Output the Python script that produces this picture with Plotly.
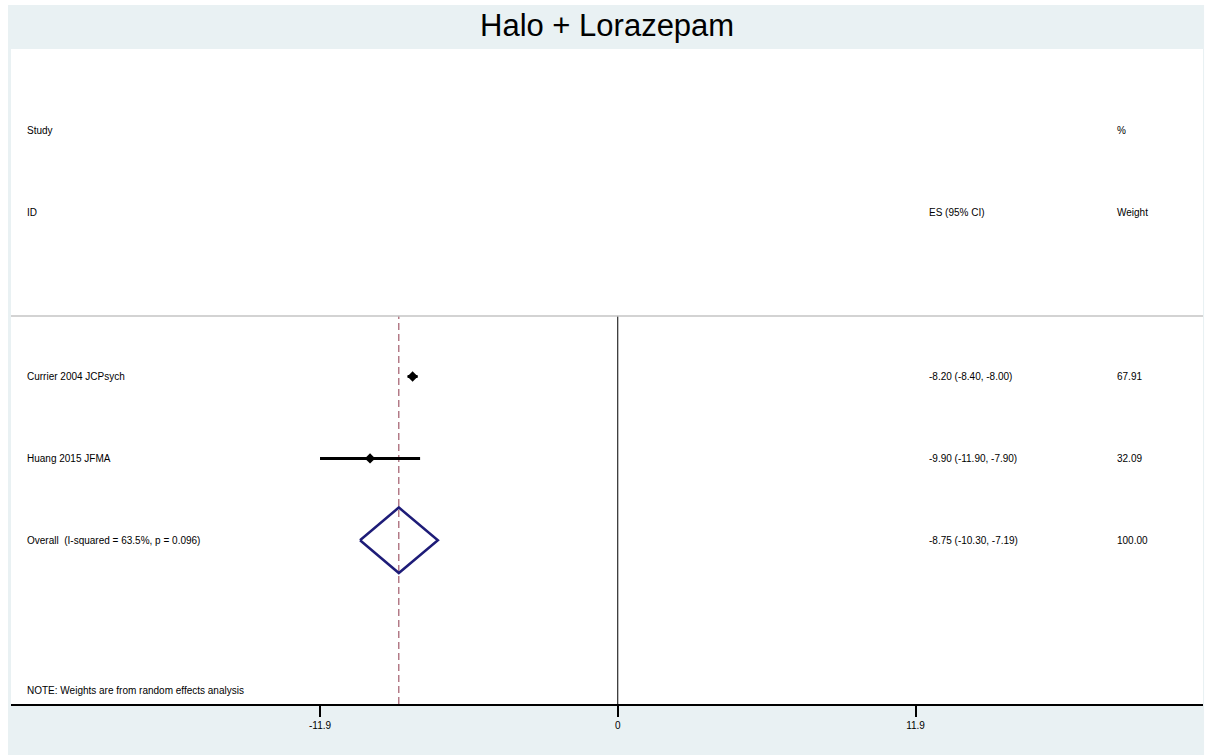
import plotly.graph_objects as go

# ---- data ----
studies = ["Currier 2004 JCPsych", "Huang 2015 JFMA"]
es = [-8.20, -9.90]
ci_low = [-8.40, -11.90]
ci_high = [-8.00, -7.90]
weights = [67.91, 32.09]

overall_label = "Overall  (I-squared = 63.5%, p = 0.096)"
overall_es = -8.75
overall_low = -10.30
overall_high = -7.19
overall_weight = 100.00

tick_vals = [-11.9, 0, 11.9]
tick_text = ["-11.9", "0", "11.9"]

title = "Halo + Lorazepam"
note = "NOTE: Weights are from random effects analysis"

# row positions (y units)
study_rows = [4, 3]
overall_row = 2
sep_row = 4.74

BG = "#E9F1F3"
FONT = "Liberation Sans, Arial, sans-serif"

fig = go.Figure()

# dashed overall line
fig.add_trace(go.Scatter(x=[overall_es, overall_es], y=[0, sep_row], mode="lines",
                         line=dict(color="#8E3A4C", width=1, dash="7px,4px"),
                         hoverinfo="skip", showlegend=False))
# zero line
fig.add_trace(go.Scatter(x=[0, 0], y=[0, sep_row], mode="lines",
                         line=dict(color="black", width=1),
                         hoverinfo="skip", showlegend=False))

# CIs
for lo, hi, r in zip(ci_low, ci_high, study_rows):
    fig.add_trace(go.Scatter(x=[lo, hi], y=[r, r], mode="lines",
                             line=dict(color="black", width=3),
                             hoverinfo="skip", showlegend=False))
# point estimates
fig.add_trace(go.Scatter(x=es, y=study_rows, mode="markers",
                         marker=dict(symbol="diamond", size=8, color="black"),
                         showlegend=False))

# overall diamond
h = 0.40
fig.add_trace(go.Scatter(
    x=[overall_low, overall_es, overall_high, overall_es, overall_low],
    y=[overall_row, overall_row + h, overall_row, overall_row - h, overall_row],
    mode="lines", line=dict(color="#1E1C78", width=2.5),
    hoverinfo="skip", showlegend=False))

# text columns
XL, XES, XW = -23.69, 12.37, 19.87
tf = dict(family=FONT, size=10, color="black")
ann = []
def add(x, y, t, anchor="left"):
    ann.append(dict(x=x, y=y, xref="x", yref="y", text=t, showarrow=False,
                    xanchor=anchor, yanchor="middle", font=tf))

add(XL, 7.0, "Study")
add(XL, 6.0, "ID")
add(XES, 6.0, "ES (95% CI)")
add(XW, 7.0, "%")
add(XW, 6.0, "Weight")
for s, e, lo, hi, w, r in zip(studies, es, ci_low, ci_high, weights, study_rows):
    add(XL, r, s)
    add(XES, r, f"{e:.2f} ({lo:.2f}, {hi:.2f})")
    add(XW, r, f"{w:.2f}")
add(XL, overall_row, overall_label)
add(XES, overall_row, f"{overall_es:.2f} ({overall_low:.2f}, {overall_high:.2f})")
add(XW, overall_row, f"{overall_weight:.2f}")
add(XL, 0.17, note)

# title
ann.append(dict(x=0.5, y=1.0366, xref="paper", yref="paper", text=title,
                showarrow=False, xanchor="center", yanchor="middle",
                font=dict(family=FONT, size=31, color="black")))

shapes = [
    # separator
    dict(type="line", xref="paper", yref="y", x0=0, x1=1, y0=sep_row, y1=sep_row,
         line=dict(color="#C4C4C4", width=1.5)),
    # white page strips outside the graph region
    dict(type="rect", xref="paper", yref="paper", x0=-0.02, x1=-0.0025, y0=-0.2, y1=1.2,
         fillcolor="white", line=dict(width=0), layer="above"),
    dict(type="rect", xref="paper", yref="paper", x0=-0.02, x1=1.02, y0=1.0672, y1=1.2,
         fillcolor="white", line=dict(width=0), layer="above"),
    dict(type="rect", xref="paper", yref="paper", x0=1.0009, x1=1.02, y0=-0.2, y1=1.2,
         fillcolor="white", line=dict(width=0), layer="above"),
]

fig.update_layout(
    width=1205, height=755,
    margin=dict(l=11, r=2, t=49, b=51, pad=0),
    paper_bgcolor=BG, plot_bgcolor="white",
    annotations=ann, shapes=shapes,
    showlegend=False,
    xaxis=dict(range=[-24.25, 23.39], tickvals=tick_vals, ticktext=tick_text,
               ticks="outside", ticklen=11, tickwidth=1.5, tickcolor="black",
               showline=True, linecolor="black", linewidth=2,
               showgrid=False, zeroline=False, fixedrange=True,
               tickfont=dict(family=FONT, size=10, color="black")),
    yaxis=dict(range=[0, 8], showgrid=False, zeroline=False, showticklabels=False,
               ticks="", showline=False, fixedrange=True),
)

fig.write_html("out.html", config={"displayModeBar": False},
               post_script="document.body.style.margin='0';document.body.style.overflow='hidden';")
